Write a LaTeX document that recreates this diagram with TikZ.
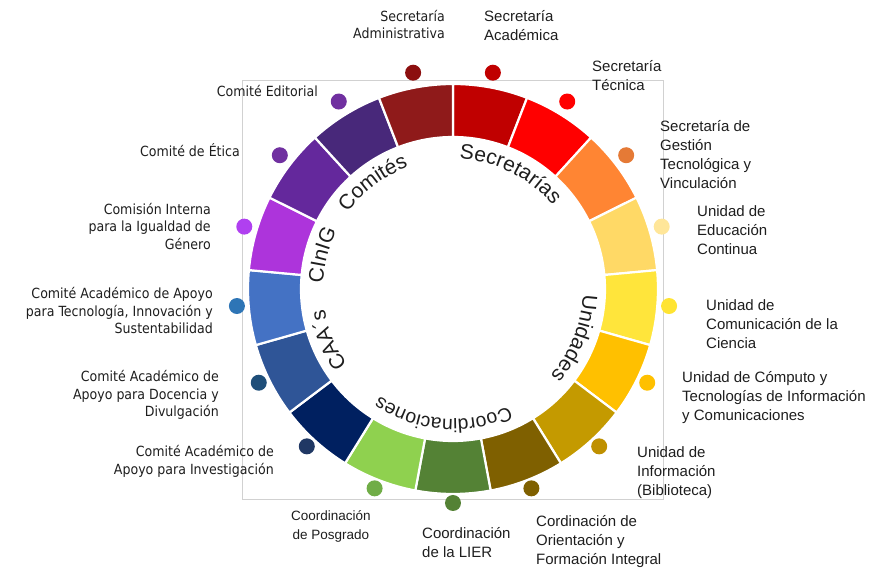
\documentclass[tikz,border=0pt]{standalone}
\usepackage{fontspec}
\setmainfont{Liberation Sans}
\newfontfamily\tah{DejaVu Sans Condensed}
\usetikzlibrary{decorations.text}
\definecolor{txt}{HTML}{1E1E1E}
\tikzset{
  lblR/.style={font=\fontsize{15}{19}\selectfont, align=left, anchor=west, inner sep=0pt, text=txt},
  lblL/.style={font=\tah\fontsize{14}{17.5}\selectfont, align=right, anchor=east, inner sep=0pt, text=txt},
  dotnode/.style={circle, minimum size=16pt, inner sep=0pt, draw=none},
  ringtxt/.style={decorate, decoration={text along path, text align=center, text color=txt}},
}
\newcommand{\ringfont}{\fontsize{21}{21}\selectfont}
\begin{document}
\begin{tikzpicture}[x=1pt,y=1pt]
\useasboundingbox (-453,-284) rectangle (426,289);
% frame
\draw[draw=black!18, line width=0.8pt] (-211,-210) rectangle (210,209);
% segments
\def\R{205}
\def\r{152}
\def\st{21.17647}
\foreach \k/\segc/\dotc in {
  0/C00000/C00000,
  1/FF0000/FF0000,
  2/FF8533/E57A36,
  3/FFD966/FFE699,
  4/FFE53B/FFE433,
  5/FFC000/FFC000,
  6/C49A00/BF9000,
  7/7F6000/7F6000,
  8/548235/548235,
  9/8FD14F/70AD47,
  10/002060/203864,
  11/2F5597/1F4E79,
  12/4472C4/2E75B6,
  13/AD34DB/B040F0,
  14/64289C/7030A0,
  15/48287A/7030A0,
  16/8F1A1A/8C0F0F}
{
  \pgfmathsetmacro{\aA}{90-\st*\k}
  \pgfmathsetmacro{\aB}{90-\st*(\k+1)}
  \pgfmathsetmacro{\aM}{90-\st*(\k+0.5)}
  \definecolor{sc}{HTML}{\segc}
  \definecolor{dc}{HTML}{\dotc}
  \filldraw[fill=sc, draw=white, line width=2.2pt, line join=miter]
    (\aA:\R) arc[start angle=\aA, end angle=\aB, radius=\R]
    -- (\aB:\r) arc[start angle=\aB, end angle=\aA, radius=\r] -- cycle;
  \node[dotnode, fill=dc] (dot\k) at ([yshift=3pt]\aM:217) {};
}
% ring texts (clockwise arcs, tops outward)
\def\rb{130}
\path[ringtxt, decoration={text={|\ringfont|Secretarías}}]
  (113.5:\rb) arc[start angle=113.5, end angle=13.5, radius=\rb];
\path[ringtxt, decoration={text={|\ringfont|Unidades}}]
  (28:\rb) arc[start angle=28, end angle=-72, radius=\rb];
\path[ringtxt, decoration={text={|\fontsize{19.5}{19.5}\selectfont|Coordinaciones}}]
  (-44.5:\rb) arc[start angle=-44.5, end angle=-144.5, radius=\rb];
\path[ringtxt, decoration={text={|\ringfont|CAA´s}}]
  (-107.7:\rb) arc[start angle=-107.7, end angle=-207.7, radius=\rb];
\path[ringtxt, decoration={text={|\ringfont|CInIG}}]
  (215.4:\rb) arc[start angle=215.4, end angle=115.4, radius=\rb];
\path[ringtxt, decoration={text={|\ringfont|Comités}}]
  (177:\rb) arc[start angle=177, end angle=77, radius=\rb];
% labels, right / bottom
\node[lblR] (lAcad) at (31,263.5) {Secretaría\\Académica};
\node[lblR] (lTec) at (139,213.5) {Secretaría\\Técnica};
\node[lblR] (lGes) at (207,134) {Secretaría de\\Gestión\\Tecnológica y\\Vinculación};
\node[lblR] (lEdu) at (244,58.5) {Unidad de\\Educación\\Continua};
\node[lblR] (lCom) at (253,-35) {Unidad de\\Comunicación de la\\Ciencia};
\node[lblR] (lCmp) at (229,-108.5) {Unidad de Cómputo y\\Tecnologías de Información\\y Comunicaciones};
\node[lblR] (lInf) at (184,-183.5) {Unidad de\\Información\\(Biblioteca)};
\node[lblR] (lOri) at (83,-252.5) {Cordinación de\\Orientación y\\Formación Integral};
\node[lblR] (lLier) at (-31,-253.5) {Coordinación\\de la LIER};
\node[lblR, anchor=center, align=center, font=\fontsize{13.5}{19}\selectfont] (lPos) at (-122,-237.5) {Coordinación\\de Posgrado};
% labels, left
\node[lblL] (lAdm) at (-8,264.5) {Secretaría\\Administrativa};
\node[lblL] (lEdi) at (-135,198) {Comité Editorial};
\node[lblL] (lEti) at (-213,139) {Comité de Ética};
\node[lblL] (lGen) at (-242,62.5) {Comisión Interna\\para la Igualdad de\\Género};
\node[lblL] (lCTec) at (-240,-22) {Comité Académico de Apoyo\\para Tecnología, Innovación y\\Sustentabilidad};
\node[lblL] (lCDoc) at (-234,-106) {Comité Académico de\\Apoyo para Docencia y\\Divulgación};
\node[lblL] (lCInv) at (-179,-172.5) {Comité Académico de\\Apoyo para Investigación};
\end{tikzpicture}
\end{document}
